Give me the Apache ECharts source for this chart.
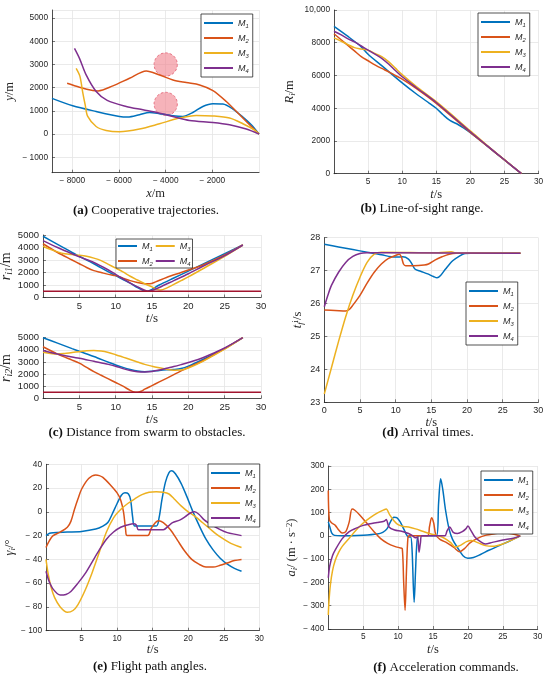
<!DOCTYPE html>
<html><head><meta charset="utf-8">
<script src="https://cdn.jsdelivr.net/npm/echarts@6/dist/echarts.min.js"></script>
<style>html,body{margin:0;padding:0;background:#fff}#c{width:550px;height:680px}</style>
</head><body><div id="c"></div><script>
// ---------- data ----------
const seriesNames = ['M1','M2','M3','M4'];
const colors = ['#0072BD','#D95319','#EDB120','#7E2F8E'];

// (a) trajectories [x, y] in m
const trajM1 = [[-8875,1540],[-7987,1221],[-6983,975],[-5983,760],[-5627,734],[-5124,833],[-4695,932],[-4266,880],[-3695,790],[-3266,760],[-2837,932],[-2408,1191],[-1979,1308],[-1549,1295],[-1120,1079],[-691,734],[-330,401],[0,0]];
const trajM2 = [[-8226,2192],[-7697,2020],[-7124,1877],[-6900,1862],[-6266,2077],[-5551,2407],[-4835,2722],[-4263,2550],[-3691,2335],[-3119,2221],[-2546,2120],[-1974,1877],[-1402,1404],[-830,831],[0,0]];
const trajM3 = [[-7840,2837],[-7680,2500],[-7558,1800],[-7450,1250],[-7343,760],[-6983,328],[-6554,155],[-5983,99],[-5124,216],[-4266,445],[-3408,690],[-2691,803],[-1979,780],[-1262,690],[-691,445],[-215,187],[0,0]];
const trajM4 = [[-7911,3696],[-7697,3266],[-7411,2550],[-6981,1834],[-6509,1450],[-5694,1189],[-4978,1046],[-4263,903],[-3695,760],[-2978,587],[-1979,501],[-1262,401],[-545,216],[0,0]];
// obstacles: [x, y, radius]
const obstacles = [[-4000,3000,500],[-4000,1300,500]];

// (b) line-of-sight range [t, R]
const rangeM1 = [[0,9000],[2,8400],[4,7750],[5,7300],[7,6600],[10,5550],[12,4900],[14,4300],[15,4000],[16,3600],[17,3250],[18,3050],[19,2800],[20,2500],[22.5,1680],[25,840],[27.5,0]];
const rangeM2 = [[0,8550],[1,8200],[2,7850],[3,7500],[4,7150],[5,6900],[6,6650],[7,6430],[8,6230],[9,6000],[10,5780],[12,5230],[15,4300],[20,2520],[22.5,1680],[25,840],[27.5,0]];
const rangeM3 = [[0,8300],[1,8100],[2,7900],[3,7700],[4,7620],[5,7550],[6,7350],[7,7150],[8,6850],[9,6450],[10,6050],[12,5350],[15,4400],[20,2620],[22.5,1720],[25,860],[27.5,0]];
const rangeM4 = [[0,8700],[1,8500],[2,8250],[3,8050],[4,7800],[5,7550],[6,7300],[7,7050],[8,6700],[9,6300],[10,5920],[12,5280],[15,4350],[20,2560],[22.5,1700],[25,850],[27.5,0]];

// (c) distance to obstacle 1 and 2 [t, r]
const obs1M1 = [[0,4900],[2,4250],[4,3600],[5,3300],[7,2700],[9,2050],[10,1750],[12,1150],[13,800],[14,530],[14.4,510],[15,650],[16,1000],[18,1560],[20,2110],[22,2670],[25,3500],[27.5,4200]];
const obs1M2 = [[0,4300],[2,3600],[4,3000],[5,2700],[6,2400],[7,2150],[8,2000],[9,1850],[10,1750],[11,1550],[12,1350],[13,1200],[14,1100],[14.7,1100],[15.5,1250],[17,1600],[19,2000],[20,2200],[22,2600],[25,3400],[27.5,4200]];
const obs1M3 = [[0,4100],[1,3850],[2,3650],[3,3500],[4,3430],[5,3380],[6,3300],[7,3150],[8,2950],[9,2650],[10,2350],[11,2050],[12,1700],[13,1400],[14,1100],[15,850],[15.7,650],[16.2,600],[17,750],[18,1050],[19,1350],[20,1650],[22,2300],[25,3300],[27.5,4200]];
const obs1M4 = [[0,4550],[2,4000],[4,3500],[5,3250],[7,2800],[9,2200],[10,1850],[11,1500],[12,1150],[13,850],[14,580],[14.5,500],[15,560],[16,800],[18,1350],[20,1900],[22,2500],[25,3350],[27.5,4200]];
const obs2M1 = [[0,5000],[2,4550],[4,4100],[5,3880],[7,3450],[9,2980],[10,2750],[11,2550],[12,2380],[13,2250],[14,2200],[15,2230],[16,2300],[17,2350],[18,2380],[19,2450],[20,2650],[22,3200],[25,4100],[27.5,5000]];
const obs2M2 = [[0,4250],[2,3650],[4,3150],[5,2900],[6,2550],[7,2200],[8,1900],[9,1600],[10,1300],[11,1000],[12,650],[12.5,520],[13,500],[13.5,580],[14,750],[15,1050],[16,1350],[18,1950],[20,2550],[22,3100],[25,4100],[27.5,5000]];
const obs2M3 = [[0,3800],[1,3700],[2,3650],[3,3700],[4,3780],[5,3850],[6,3920],[7,3950],[8,3900],[9,3780],[10,3600],[11,3400],[12,3200],[13,3000],[14,2800],[15,2650],[16,2520],[17,2400],[18,2320],[19,2330],[20,2500],[22,3050],[25,4050],[27.5,5000]];
const obs2M4 = [[0,3950],[2,3650],[4,3400],[5,3300],[7,3050],[9,2800],[10,2650],[11,2450],[12,2300],[13,2200],[14,2180],[15,2220],[16,2330],[17,2480],[18,2620],[19,2780],[20,2950],[22,3350],[25,4150],[27.5,5000]];
const safeDist = [[0,500],[30,500]];

// (d) arrival times [t, tf]
const tfM1 = [[0,27.8],[2,27.72],[4,27.64],[6,27.56],[8,27.48],[10,27.41],[11,27.42],[11.8,27.35],[12.3,27.2],[12.7,27.05],[13.5,26.98],[14.5,26.9],[15.3,26.82],[15.8,26.78],[16.3,26.85],[17,27.05],[18,27.3],[19,27.45],[19.7,27.52],[20.5,27.53],[27.5,27.53]];
const tfM2 = [[0,25.8],[1.5,25.79],[3,25.77],[3.5,25.82],[4,25.95],[5,26.25],[6,26.62],[7,26.95],[8,27.2],[9,27.37],[10,27.46],[10.5,27.5],[10.8,27.42],[11.1,27.2],[11.4,27.15],[12.5,27.15],[14,27.17],[14.6,27.2],[15.5,27.32],[16.5,27.42],[17.5,27.5],[18.5,27.53],[27.5,27.53]];
const tfM3 = [[0,23.25],[1,24.05],[2,24.85],[3,25.6],[4,26.25],[5,26.8],[6,27.25],[7,27.5],[8,27.56],[12,27.55],[16,27.54],[17.8,27.57],[18.5,27.53],[27.5,27.53]];
const tfM4 = [[0,25.9],[0.5,26.25],[1,26.55],[2,26.95],[3,27.25],[4,27.43],[5,27.52],[6,27.54],[8,27.54],[27.5,27.53]];

// (e) flight path angles [t, deg]
const gamM1 = [[0,-20],[0.5,-18],[1,-17.5],[3,-17],[5,-16.5],[7,-14.5],[8,-12],[8.7,-9],[9.3,-2],[10,7],[10.6,14],[11.1,16],[11.6,15],[11.9,10],[12.2,-5],[12.5,-12],[15.5,-12],[15.9,-5],[16.3,10],[16.8,25],[17.3,33],[17.7,34.5],[18.2,32],[19,24],[19.8,13],[20.6,1],[21.5,-11],[22.5,-23],[23.5,-32],[24.5,-39],[25.5,-44],[26.5,-47.5],[27.5,-50]];
const gamM2 = [[0,-30],[0.5,-24],[1,-20],[2,-17],[3,-13],[3.5,-8],[4,2],[4.5,11],[5,19],[6,28],[7,31],[7.5,30.5],[8,29],[9,23],[10,16],[10.5,10],[10.9,0],[11.2,-15],[11.4,-20],[14.3,-20],[14.8,-14],[15.4,-9],[15.8,-7.5],[16.5,-9],[17.5,-15],[18.5,-24],[19.5,-33],[20.5,-40],[21.5,-44],[22.5,-46.5],[23.5,-46.5],[24.5,-45],[25.5,-43],[26.5,-41],[27.5,-40]];
const gamM3 = [[0,-40],[0.3,-52],[0.7,-63],[1.2,-72],[2,-80],[3,-84.5],[3.8,-83],[4.5,-78],[5.5,-66],[6.5,-51],[7.5,-34],[8.5,-17],[9.5,-5],[10.5,2],[11.5,7],[12.5,11],[13.5,14.5],[14.5,16.5],[15.5,17],[16.5,16.5],[17.3,15],[18,11],[19,5],[20,0],[21,-4],[22,-9],[23,-14],[24,-19],[25,-23],[26,-26.5],[27.5,-30]];
const gamM4 = [[0,-50],[0.4,-58],[1,-65],[2,-70],[2.8,-69.5],[3.5,-67],[4.5,-60],[5.5,-52],[6.5,-42],[7.5,-32],[8.5,-23],[9.5,-17],[10.5,-13],[11.5,-11],[12.3,-10],[12.7,-11],[13,-15],[16.5,-15],[17.2,-12],[17.8,-9],[18.8,-7],[19.6,-4],[20.3,-1],[20.9,0],[21.5,-2],[22.3,-7],[23.3,-11],[24.5,-15],[25.5,-17.5],[27.5,-20]];

// (f) acceleration commands [t, a]
const accM1 = [[0,60],[0.2,40],[0.5,12],[0.9,2],[2,0],[5,3],[7,8],[7.8,15],[8.4,30],[8.9,60],[9.4,80],[9.8,78],[10.3,60],[10.8,30],[11.2,5],[11.5,-5],[11.8,-5],[12,-60],[12.3,-285],[12.5,-150],[12.7,-30],[13,0],[15.5,0],[15.8,140],[16.1,245],[16.4,200],[16.8,110],[17.3,30],[17.8,-15],[18.5,-50],[19.3,-85],[20,-96],[20.8,-93],[21.8,-80],[23,-62],[24.5,-42],[26,-22],[27.5,0]];
const accM2 = [[0,195],[0.15,70],[0.5,55],[1,45],[1.5,25],[2,12],[2.5,18],[3,60],[3.4,115],[3.8,110],[4.5,90],[5.5,55],[6.5,20],[7.5,-12],[8.5,-32],[9.5,-45],[10.3,-52],[10.6,-55],[10.8,-200],[11,-320],[11.2,-150],[11.4,-10],[11.6,0],[14.2,0],[14.5,40],[14.8,78],[15.1,55],[15.4,5],[16,-15],[17,-30],[18,-50],[18.8,-68],[19.5,-55],[20.3,-30],[21.3,-12],[22.5,2],[24,10],[25,13],[26,10],[27.5,0]];
const accM3 = [[0,-340],[0.1,-280],[0.3,-210],[0.6,-150],[1,-105],[1.5,-70],[2,-45],[3,-10],[4,25],[5,55],[6,78],[7,98],[8,112],[8.3,115],[8.8,90],[9.4,65],[10,48],[10.8,40],[11.5,38],[12.5,30],[13.5,20],[14.5,10],[15.5,2],[16.5,-8],[17.5,-28],[18.2,-48],[19,-40],[19.8,-25],[20.5,-20],[21.5,-30],[22.5,-42],[23.5,-45],[25,-35],[26.5,-15],[27.5,0]];
const accM4 = [[0,-180],[0.2,-130],[0.6,-85],[1,-60],[2,-12],[3,18],[4,33],[5,45],[6,52],[7,57],[8,63],[8.3,70],[8.7,38],[9.5,25],[10.5,20],[11.5,10],[12,2],[12.5,-8],[12.8,-5],[13,-70],[13.2,-30],[13.4,0],[16.7,0],[17,20],[17.4,38],[17.9,15],[18.5,10],[19.2,18],[19.7,30],[20,42],[20.4,25],[21,-5],[21.8,-25],[22.5,-35],[23.5,-28],[25,-18],[26.5,-10],[27.5,0]];

// ---------- chart ----------
const TXT = '#262626';
const SANS = 'Liberation Sans, Arial, sans-serif';
const SERIF = 'Liberation Serif, Times New Roman, serif';
const fmt = v => v < 0 ? '\u2212 ' + Math.abs(v) : (v >= 10000 ? v.toLocaleString('en-US') : String(v));

function nameRich(fs) {
  return {
    i: {fontStyle:'italic', fontFamily:SERIF, fontSize:fs, color:TXT, lineHeight:fs+2},
    n: {fontFamily:SERIF, fontSize:fs, color:TXT, lineHeight:fs+2},
    sb: {fontStyle:'italic', fontFamily:SERIF, fontSize:fs*0.7, color:TXT, lineHeight:fs*0.7, verticalAlign:'bottom'},
    sp: {fontFamily:SERIF, fontSize:fs*0.7, color:TXT, lineHeight:fs*0.7, verticalAlign:'top'}
  };
}
function axis(gi, o) {
  const fs = o.fs || 8.3;
  const nfs = o.nfs || 12.5;
  return {
    type:'value', gridIndex:gi, min:o.min, max:o.max, interval:o.interval, splitNumber:o.split,
    name:o.name, nameLocation:'middle', nameGap:o.gap,
    nameTextStyle:{rich:nameRich(nfs)},
    axisLine:{show:true, onZero:false, lineStyle:{color:TXT, width:0.8}},
    axisTick:{show:true, inside:true, length:3, lineStyle:{color:TXT, width:0.6}},
    axisLabel:{fontSize:fs, color:TXT, fontFamily:SANS, formatter:fmt, margin:o.margin||4,
      showMinLabel:o.showMin !== undefined ? o.showMin : true, showMaxLabel:o.showMax !== undefined ? o.showMax : true},
    splitLine:{show:true, lineStyle:{color:'#e4e4e4', width:0.8}}
  };
}
const grids = [
  {left:52, top:10, width:207, height:162.7},
  {left:334, top:10, width:204.5, height:163.7},
  {left:43, top:235, width:218, height:62.5},
  {left:43, top:337.7, width:218, height:60.6},
  {left:324.3, top:237.7, width:214, height:164.6},
  {left:46, top:464.3, width:213.3, height:166.4},
  {left:328.3, top:466, width:209.4, height:163}
].map(g => Object.assign({containLabel:false, outerBoundsMode:'none'}, g));

const xAxes = [
  axis(0,{min:-8875, max:0, split:4, showMin:false, showMax:false, name:'{i|x}{n|/m}', gap:14}),
  axis(1,{min:0, max:30, interval:5, showMin:false, name:'{i|t}{n|/s}', gap:14}),
  axis(2,{min:0, max:30, interval:5, showMin:false, name:'{i|t}{n|/s}', gap:13, fs:9.5, nfs:13}),
  axis(3,{min:0, max:30, interval:5, showMin:false, name:'{i|t}{n|/s}', gap:12, fs:9.5, nfs:13}),
  axis(4,{min:0, max:30, interval:5, name:'{i|t}{n|/s}', gap:13, fs:9}),
  axis(5,{min:0, max:30, interval:5, showMin:false, name:'{i|t}{n|/s}', gap:12}),
  axis(6,{min:0, max:30, interval:5, showMin:false, name:'{i|t}{n|/s}', gap:13})
];
const yAxes = [
  axis(0,{min:-1665, max:5350, split:6, showMin:false, showMax:false, name:'{i|y}{n|/m}', gap:35}),
  axis(1,{min:0, max:10000, interval:2000, name:'{i|R}{sb|i}{n|/m}', gap:37}),
  axis(2,{min:0, max:5000, interval:1000, name:'{i|r}{sb|i1}{n|/m}', gap:29, fs:9.5, nfs:14}),
  axis(3,{min:0, max:5000, interval:1000, name:'{i|r}{sb|i2}{n|/m}', gap:29, fs:9.5, nfs:14}),
  axis(4,{min:23, max:28, interval:1, name:'{i|t}{sb|f}{sp|i}{n|/s}', gap:19, fs:9}),
  axis(5,{min:-100, max:40, interval:20, name:'{i|γ}{sb|i}{n|/°}', gap:27}),
  axis(6,{min:-400, max:300, interval:100, name:'{i|a}{sb|i}{n|/ (m · s}{sp|−2}{n|)}', gap:25})
];

const panels = [
  [trajM1, trajM2, trajM3, trajM4],
  [rangeM1, rangeM2, rangeM3, rangeM4],
  [obs1M1, obs1M2, obs1M3, obs1M4],
  [obs2M1, obs2M2, obs2M3, obs2M4],
  [tfM1, tfM2, tfM3, tfM4],
  [gamM1, gamM2, gamM3, gamM4],
  [accM1, accM2, accM3, accM4]
];
const series = [];
series.push({
  type:'custom', xAxisIndex:0, yAxisIndex:0, data:obstacles, z:1, silent:true,
  encode:{x:0, y:1},
  renderItem:(params, api) => {
    const c = api.coord([api.value(0), api.value(1)]);
    const s = api.size([api.value(2), api.value(2)]);
    return {type:'circle', shape:{cx:c[0], cy:c[1], r:(s[0]+s[1])/2},
      style:{fill:'rgba(240,128,140,0.6)', stroke:'#e46a7a', lineWidth:0.9, lineDash:[2.5,2]}};
  }
});
panels.forEach((arrs, gi) => {
  arrs.forEach((d, k) => {
    series.push({type:'line', name:seriesNames[k], xAxisIndex:gi, yAxisIndex:gi, data:d,
      showSymbol:false, symbol:'none', smooth:0.3, z:3, clip:true,
      lineStyle:{color:colors[k], width:1.5}, itemStyle:{color:colors[k]}});
  });
});
[2,3].forEach(gi => series.push({type:'line', name:'safe', xAxisIndex:gi, yAxisIndex:gi, data:safeDist,
  showSymbol:false, symbol:'none', z:4, lineStyle:{color:'#A2142F', width:1.5}}));

const legRich = fs => ({
  m:{fontStyle:'italic', fontFamily:SANS, fontSize:fs, color:TXT, lineHeight:12},
  s:{fontStyle:'italic', fontFamily:SANS, fontSize:fs*0.65, color:TXT, lineHeight:7, verticalAlign:'bottom'}
});
function legend(left, top, extra) {
  return Object.assign({
    left, top, orient:'vertical', data:seriesNames, icon:'rect', itemWidth:29, itemHeight:2, itemGap:3,
    padding:[3,4,3,3], backgroundColor:'#fff', borderColor:TXT, borderWidth:0.8, borderRadius:0,
    formatter:n => '{m|M}{s|' + n.slice(1) + '}',
    textStyle:{rich:legRich(9), lineHeight:12, padding:[0,0,0,0]}, selectedMode:false
  }, extra || {});
}
const legends = [
  legend(201, 14),
  legend(478, 13),
  legend(116, 239, {orient:'horizontal', width:78, data:['M1','M3','M2','M4'], itemWidth:19, itemGap:3, padding:[1,2,1,2], textStyle:{rich:legRich(9), lineHeight:10}}),
  legend(466, 282),
  legend(208, 464),
  legend(481, 471)
];

const capRich = {b:{fontWeight:'bold', fontFamily:SERIF, fontSize:13, color:'#111'}, n:{fontFamily:SERIF, fontSize:13, color:'#111'}};
const caps = [
  [146, 211, '(a)', ' Cooperative trajectories.'],
  [422, 209, '(b)', ' Line-of-sight range.'],
  [147, 433, '(c)', ' Distance from swarm to obstacles.'],
  [428, 433, '(d)', ' Arrival times.'],
  [150, 667, '(e)', ' Flight path angles.'],
  [446, 668, '(f)', ' Acceleration commands.']
];
const graphic = caps.map(c => ({type:'text', x:c[0], y:c[1], silent:true,
  style:{text:'{b|' + c[2] + '}{n|' + c[3] + '}', rich:capRich, align:'center', verticalAlign:'middle',
    fontFamily:SERIF, fontSize:13, fill:'#111'}}));

const chart = echarts.init(document.getElementById('c'), null, {renderer:'canvas'});
chart.setOption({
  animation:false, backgroundColor:'#fff',
  grid:grids, xAxis:xAxes, yAxis:yAxes, series, legend:legends, graphic
});
</script></body></html>
